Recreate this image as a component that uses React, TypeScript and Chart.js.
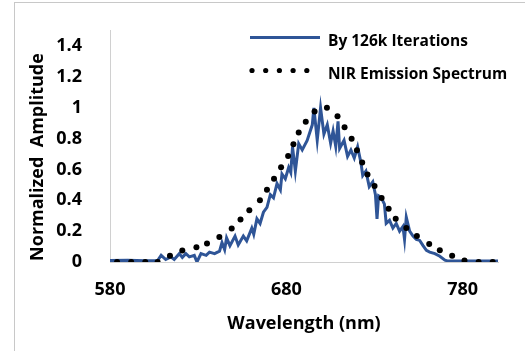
import React, { useEffect, useRef } from "react";
import { Chart, registerables } from "chart.js";

Chart.register(...registerables);

// "By 126k Iterations" series (wavelength nm, normalized amplitude)
const iterWavelength = [
  580, 590, 600, 606.9, 609, 611.6, 614.5, 616.4, 619.3, 621, 623, 625, 627.8, 629.3, 631.6,
  634.5, 636.4, 639.3, 642.1, 643.5, 645, 646.1, 648, 650.9, 652.7, 655.6, 657.5, 660.4, 661.5,
  663.3, 665.1, 667, 669, 670.9, 672.7, 674.7, 676.6, 677.5, 679.4, 681.3, 682.5, 683.5, 685.1,
  687, 689, 691.8, 694.7, 695.6, 697.5, 699.4, 701.3, 703.2, 705.1, 706.5, 708, 709.3, 710.2,
  712.7, 714.7, 716.6, 718.5, 720.4, 722.3, 723.3, 725.1, 727, 729, 730.5, 731.4, 732.3, 733.7,
  735.6, 736.6, 738.5, 740.4, 742.3, 744.2, 746.1, 747, 748, 749.9, 751.8, 753.7, 755.6, 757.5,
  759.4, 761.3, 764.2, 767, 769.9, 771.8, 785, 800,
];
const iterAmplitude = [
  0.01, 0.012, 0.008, 0.008, 0.043, 0.016, 0.033, 0.016, 0.054, 0.03, 0.054, 0.033, 0.043, 0.0, 0.054,
  0.043, 0.064, 0.054, 0.07, 0.126, 0.08, 0.157, 0.106, 0.168, 0.111, 0.168, 0.137, 0.22, 0.18,
  0.28, 0.25, 0.323, 0.354, 0.437, 0.416, 0.509, 0.468, 0.571, 0.54, 0.613, 0.58, 0.747, 0.59,
  0.768, 0.727, 0.789, 0.89, 1.0, 0.79, 1.0, 0.83, 0.89, 0.77, 0.85, 0.75, 0.913, 0.737,
  0.79, 0.685, 0.727, 0.675, 0.747, 0.644, 0.561, 0.59, 0.489, 0.52, 0.437, 0.28, 0.43, 0.42,
  0.375, 0.25, 0.27, 0.22, 0.25, 0.2, 0.23, 0.147, 0.29, 0.2, 0.168, 0.147, 0.14, 0.106,
  0.075, 0.064, 0.054, 0.037, 0.012, 0.006, 0.006, 0.006,
];

// "NIR Emission Spectrum" series (dots)
const nirWavelength = [
  584, 592, 600, 607, 614, 621, 629, 635, 642, 649, 654, 659, 665, 669, 673, 677, 681, 684, 687, 691,
  696, 703, 709, 713, 717, 720, 723, 726, 730, 734, 738, 742, 748, 754, 761, 767, 774, 781, 789, 797,
];
const nirAmplitude = [
  0, 0, 0, 0, 0.04, 0.075, 0.095, 0.12, 0.163, 0.217, 0.275, 0.335, 0.4, 0.468, 0.54, 0.615, 0.687, 0.764, 0.84, 0.91,
  0.977, 1.0, 0.946, 0.874, 0.8, 0.725, 0.646, 0.567, 0.493, 0.416, 0.346, 0.28, 0.22, 0.168, 0.116, 0.077, 0.04, 0.01, 0, 0,
];

const xTicks = [580, 680, 780];
const yTicks = [0, 0.2, 0.4, 0.6, 0.8, 1, 1.2, 1.4];
const seriesNames = ["By 126k Iterations", "NIR Emission Spectrum"];
const xTitle = "Wavelength (nm)";
const yTitle = "Normalized  Amplitude";

const BLUE = "#2F5597";
const FONT = "'Open Sans', Lato, sans-serif";

const decorPlugin = {
  id: "decor",
  afterDraw(chart: any) {
    const ctx = chart.ctx as CanvasRenderingContext2D;
    ctx.save();
    // y-axis title
    ctx.fillStyle = "#000";
    ctx.font = `bold 18px ${FONT}`;
    ctx.textAlign = "center";
    ctx.textBaseline = "middle";
    ctx.translate(38, 157);
    ctx.rotate(-Math.PI / 2);
    ctx.fillText(yTitle, 0, 0);
    ctx.setTransform(1, 0, 0, 1, 0, 0);

    // legend
    ctx.strokeStyle = BLUE;
    ctx.lineWidth = 3;
    ctx.beginPath();
    ctx.moveTo(250, 37.5);
    ctx.lineTo(320, 37.5);
    ctx.stroke();
    ctx.fillStyle = "#000";
    for (let i = 0; i < 5; i++) {
      ctx.beginPath();
      ctx.arc(252 + i * 13.7, 70.5, 2.6, 0, Math.PI * 2);
      ctx.fill();
    }
    ctx.font = `bold 15.5px ${FONT}`;
    ctx.textAlign = "left";
    ctx.textBaseline = "alphabetic";
    ctx.fillText(seriesNames[0], 328, 45.5);
    ctx.fillText(seriesNames[1], 328, 79);
    ctx.restore();
  },
};

export default function App() {
  const ref = useRef<HTMLCanvasElement>(null);
  useEffect(() => {
    if (!ref.current) return;
    const chart = new Chart(ref.current, {
      type: "scatter",
      data: {
        datasets: [
          {
            label: seriesNames[0],
            data: iterWavelength.map((x, i) => ({ x, y: iterAmplitude[i] })),
            showLine: true,
            borderColor: BLUE,
            borderWidth: 3,
            pointRadius: 0,
            tension: 0,
            order: 2,
          },
          {
            label: seriesNames[1],
            data: nirWavelength.map((x, i) => ({ x, y: nirAmplitude[i] })),
            showLine: false,
            pointRadius: 3,
            pointBackgroundColor: "#000",
            pointBorderWidth: 0,
            order: 1,
          },
        ],
      },
      options: {
        animation: false,
        responsive: false,
        layout: { padding: { left: 0, top: 20, right: 27, bottom: 0 } },
        plugins: { legend: { display: false }, tooltip: { enabled: false } },
        scales: {
          x: {
            type: "linear",
            min: 580,
            max: 800,
            afterFit: (s: any) => { s.height = 89; },
            afterBuildTicks: (s: any) => { s.ticks = xTicks.map((v) => ({ value: v })); },
            grid: { display: false },
            border: { display: true, color: "#d0d0d0", width: 1 },
            ticks: { color: "#000", font: { family: FONT, size: 18, weight: "bold" }, padding: 9, maxRotation: 0 },
            title: { display: true, text: xTitle, color: "#000", font: { family: FONT, size: 18, weight: "bold" }, padding: { top: 0, bottom: 16 } },
          },
          y: {
            type: "linear",
            min: 0,
            max: 1.5,
            afterFit: (s: any) => { s.width = 110; },
            afterBuildTicks: (s: any) => { s.ticks = yTicks.map((v) => ({ value: v })); },
            grid: { display: false },
            border: { display: true, color: "#d0d0d0", width: 1 },
            ticks: {
              color: "#000",
              font: { family: FONT, size: 18, weight: "bold" },
              padding: 20,
              callback: (v: any) => String(Math.round(Number(v) * 10) / 10),
            },
          },
        },
      },
      plugins: [decorPlugin],
    });
    return () => chart.destroy();
  }, []);
  return (
    <div style={{ position: "fixed", left: 0, top: 0, width: 525, height: 351, background: "#fff", overflow: "hidden" }}>
      <div style={{ position: "absolute", left: 14, top: 2, width: 600, height: 600, border: "1px solid #c8c8c8", boxSizing: "border-box" }} />
      <canvas ref={ref} width={525} height={351} style={{ position: "absolute", left: 0, top: 0, width: 525, height: 351, display: "block" }} />
    </div>
  );
}
